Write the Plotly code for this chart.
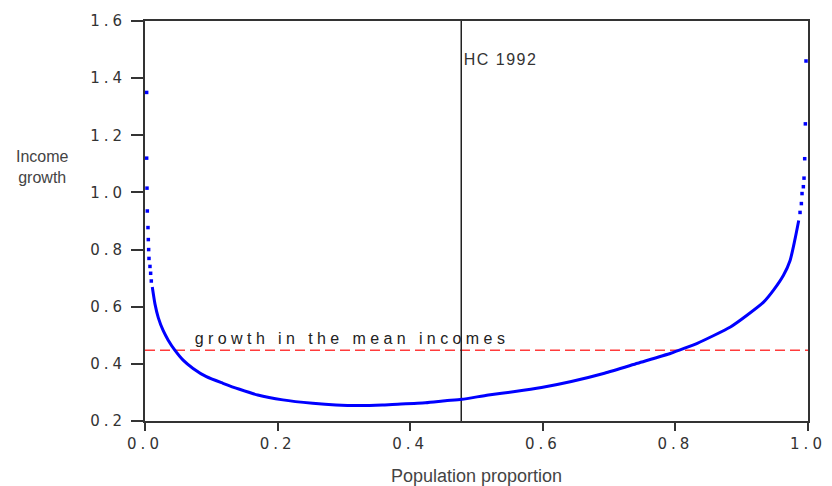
import plotly.graph_objects as go

# Growth incidence curve: dense part
curve_x = [0.011, 0.015, 0.020, 0.0275, 0.035, 0.045, 0.0575, 0.0725, 0.0926, 0.1176,
           0.1426, 0.170, 0.208, 0.253, 0.288, 0.323, 0.358, 0.373, 0.423, 0.453,
           0.478, 0.518, 0.558, 0.598, 0.643, 0.693, 0.743, 0.793, 0.813, 0.833,
           0.883, 0.908, 0.933, 0.948, 0.963, 0.973, 0.980, 0.986]
curve_y = [0.669, 0.610, 0.562, 0.516, 0.483, 0.448, 0.413, 0.384, 0.355, 0.332,
           0.311, 0.291, 0.274, 0.262, 0.256, 0.254, 0.256, 0.258, 0.264, 0.271,
           0.276, 0.291, 0.303, 0.317, 0.338, 0.367, 0.402, 0.437, 0.454, 0.472,
           0.529, 0.570, 0.616, 0.658, 0.710, 0.762, 0.832, 0.902]

# Sparse tail points at both ends
tail_x = [0.0025, 0.0025, 0.003, 0.0035, 0.0045, 0.005, 0.0055, 0.006, 0.0075, 0.0085, 0.0095,
          0.988, 0.990, 0.991, 0.993, 0.994, 0.995, 0.996, 0.997]
tail_y = [1.35, 1.12, 1.015, 0.935, 0.877, 0.835, 0.80, 0.769, 0.741, 0.717, 0.69,
          0.93, 0.961, 0.996, 1.02, 1.05, 1.118, 1.24, 1.46]

mean_growth = 0.448
hc_1992 = 0.477

x_ticks = [0.0, 0.2, 0.4, 0.6, 0.8, 1.0]
y_ticks = [0.2, 0.4, 0.6, 0.8, 1.0, 1.2, 1.4, 1.6]

fig = go.Figure()
fig.add_trace(go.Scatter(x=[0, 1], y=[mean_growth, mean_growth], mode="lines",
                         line=dict(color="#ff3b3b", width=1.5, dash="10px,5px"),
                         hoverinfo="skip", showlegend=False))
fig.add_trace(go.Scatter(x=[hc_1992, hc_1992], y=[0.2, 1.6], mode="lines",
                         line=dict(color="#222222", width=1.5),
                         hoverinfo="skip", showlegend=False))
fig.add_trace(go.Scatter(x=curve_x, y=curve_y, mode="lines",
                         line=dict(color="#0000ff", width=3, shape="spline", smoothing=0.6),
                         showlegend=False))
fig.add_trace(go.Scatter(x=tail_x, y=tail_y, mode="markers",
                         marker=dict(color="#0000ff", size=3.5, symbol="square"),
                         showlegend=False))

tick_font = dict(family="DejaVu Sans, Arial, sans-serif", size=15, color="#333333")
fig.update_xaxes(range=[0, 1], tickvals=x_ticks, ticktext=[f"{v:.1f}" for v in x_ticks],
                 showgrid=False, zeroline=False, showline=True, linecolor="#333333",
                 linewidth=2, mirror=True, ticks="outside", ticklen=8, tickwidth=2,
                 tickcolor="#333333", tickfont=tick_font)
fig.update_yaxes(range=[0.2, 1.6], tickvals=y_ticks, ticktext=[f"{v:.1f}" for v in y_ticks],
                 showgrid=False, zeroline=False, showline=True, linecolor="#333333",
                 linewidth=2, mirror=True, ticks="outside", ticklen=12, tickwidth=2,
                 tickcolor="#333333", tickfont=tick_font, ticklabelstandoff=2)

label_font = dict(family="Liberation Sans Narrow, Arial Narrow, Arial, sans-serif", size=16, color="#444444")
fig.add_annotation(text="Income<br>growth", xref="paper", yref="y", x=-0.155, y=1.09,
                   xanchor="center", yanchor="middle",
                   showarrow=False, font=label_font, align="center")
fig.add_annotation(text="Population proportion", xref="paper", yref="paper", x=0.5, y=-0.137,
                   xanchor="center", yanchor="middle",
                   showarrow=False, font=dict(label_font, size=18))
fig.add_annotation(text="HC 1992", xref="x", yref="y", x=0.486, y=1.467, xanchor="left",
                   yanchor="middle", showarrow=False,
                   font=dict(family="Arial, Liberation Sans, sans-serif", size=16, color="#333333"))
fig.add_annotation(text="growth in the mean incomes", xref="x", yref="y", x=0.312, y=0.49,
                   xanchor="center", yanchor="middle", showarrow=False,
                   font=dict(family="Arial, Liberation Sans, sans-serif", size=16, color="#222222"))

fig.update_layout(width=832, height=486, margin=dict(l=145, r=21, t=20, b=65),
                  plot_bgcolor="white", paper_bgcolor="white")

post = """
var gd = document.getElementById('{plot_id}');
gd.querySelectorAll('.xtick text, .ytick text').forEach(function(t){ t.style.letterSpacing='4px'; });
gd.querySelectorAll('.annotation-text').forEach(function(t){
  if (t.textContent.indexOf('growth in') === 0) { t.style.letterSpacing='4.4px'; }
  if (t.textContent.indexOf('HC') === 0) { t.style.letterSpacing='1.5px'; }
});
"""
fig.write_html("out.html", post_script=post)
